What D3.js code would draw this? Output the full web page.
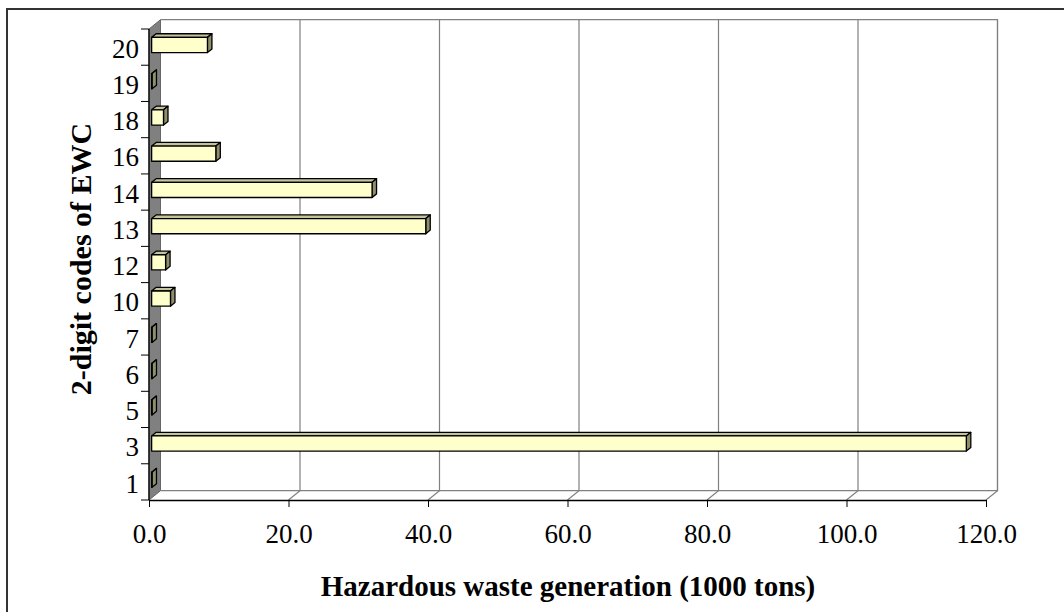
<!DOCTYPE html>
<html>
<head>
<meta charset="utf-8">
<script src="https://cdn.jsdelivr.net/npm/d3@7"></script>
<style>
  body { margin: 0; background: #fff; }
  svg { display: block; font-family: "Liberation Serif", "Times New Roman", serif; }
</style>
</head>
<body>
<div id="chart"></div>
<script>
// 2-digit EWC codes and hazardous waste generated (1000 tons)
const codes = ["1", "3", "5", "6", "7", "10", "12", "13", "14", "16", "18", "19", "20"];
const waste = [0.05, 116.8, 0.05, 0.05, 0.05, 2.7, 2.0, 39.3, 31.6, 9.2, 1.7, 0.05, 8.0];
const xTicks = [0, 20, 40, 60, 80, 100, 120];

const width = 1064, height = 612;
const DX = 11.5, DY = 9.3;        // depth offset of the 3D box
const zFront = 0.23, zBack = 0.62; // depth span of the bars
const barHalf = 7.6;

const svg = d3.select("#chart").append("svg")
  .attr("width", width)
  .attr("height", height);

// outer frame
svg.append("rect")
  .attr("x", 7).attr("y", 9)
  .attr("width", width + 20).attr("height", height + 20)
  .attr("fill", "none")
  .attr("stroke", "#333")
  .attr("stroke-width", 2);

const x = d3.scaleLinear().domain([0, 120]).range([149, 986]);
const y = d3.scaleBand().domain(codes).range([500, 29]);
const yTop = 29, yBot = 500;

const P = (px, py, z) => [px + z * DX, py - z * DY];
const poly = pts => "M" + pts.map(p => p.join(",")).join("L") + "Z";

// left wall
svg.append("path")
  .attr("d", poly([P(x(0), yBot, 0), P(x(0), yTop, 0), P(x(0), yTop, 1), P(x(0), yBot, 1)]))
  .attr("fill", "#808080")
  .attr("stroke", "#666")
  .attr("stroke-width", 1);

// back wall border + gridlines
const grid = svg.append("g").attr("stroke", "#808080").attr("fill", "none").attr("stroke-width", 1.2);
grid.append("path")
  .attr("d", "M" + P(x(0), yTop, 1) + "L" + P(x(120), yTop, 1) + "L" + P(x(120), yBot, 1) + "L" + P(x(0), yBot, 1));
xTicks.slice(1).forEach(t => {
  grid.append("path")
    .attr("d", "M" + P(x(t), yBot, 0) + "L" + P(x(t), yBot, 1) + "L" + P(x(t), yTop, 1));
});

// bars
const bars = svg.append("g").attr("stroke", "#000").attr("stroke-width", 1.3).attr("stroke-linejoin", "round");
codes.forEach((c, i) => {
  const v = waste[i];
  const cy = y(c) + y.bandwidth() / 2;
  const t = cy - barHalf, b = cy + barHalf;
  const x0 = x(0), x1 = x(v);
  const g = bars.append("g");
  // top
  g.append("path")
    .attr("d", poly([P(x0, t, zFront), P(x1, t, zFront), P(x1, t, zBack), P(x0, t, zBack)]))
    .attr("fill", "#c4c49a");
  // side
  g.append("path")
    .attr("d", poly([P(x1, t, zFront), P(x1, b, zFront), P(x1, b, zBack), P(x1, t, zBack)]))
    .attr("fill", "#8f8f6b");
  // front
  g.append("path")
    .attr("d", poly([P(x0, t, zFront), P(x1, t, zFront), P(x1, b, zFront), P(x0, b, zFront)]))
    .attr("fill", "#ffffcc");
});

// x axis
const xAxis = svg.append("g")
  .attr("transform", "translate(0," + yBot + ")")
  .call(d3.axisBottom(x).tickValues(xTicks).tickFormat(d3.format(".1f")).tickSize(7).tickSizeOuter(0).tickPadding(17));
xAxis.select(".domain").attr("stroke", "#000").attr("stroke-width", 1.3);
xAxis.selectAll(".tick line").attr("stroke", "#000");
xAxis.selectAll("text").attr("font-size", 27).attr("font-family", "Liberation Serif").attr("fill", "#000");

// y axis
const yAxis = svg.append("g")
  .attr("transform", "translate(" + x(0) + ",2)")
  .call(d3.axisLeft(y).tickSize(0).tickPadding(10));
yAxis.select(".domain").remove();
yAxis.selectAll("text").attr("font-size", 27).attr("font-family", "Liberation Serif").attr("fill", "#000");
svg.append("line")
  .attr("x1", x(0)).attr("x2", x(0)).attr("y1", yTop).attr("y2", yBot)
  .attr("stroke", "#000").attr("stroke-width", 1.3);
svg.append("g").selectAll("line")
  .data(codes.concat(["end"]))
  .join("line")
  .attr("x1", x(0) - 8).attr("x2", x(0))
  .attr("y1", (d, i) => i < codes.length ? y(codes[i]) + y.bandwidth() : yTop)
  .attr("y2", (d, i) => i < codes.length ? y(codes[i]) + y.bandwidth() : yTop)
  .attr("stroke", "#000");

// titles
svg.append("text")
  .attr("x", 568).attr("y", 596)
  .attr("text-anchor", "middle")
  .attr("font-size", 29).attr("font-weight", "bold")
  .text("Hazardous waste generation (1000 tons)");
svg.append("text")
  .attr("transform", "translate(91,259) rotate(-90)")
  .attr("text-anchor", "middle")
  .attr("font-size", 30).attr("font-weight", "bold")
  .text("2-digit codes of EWC");
</script>
</body>
</html>
